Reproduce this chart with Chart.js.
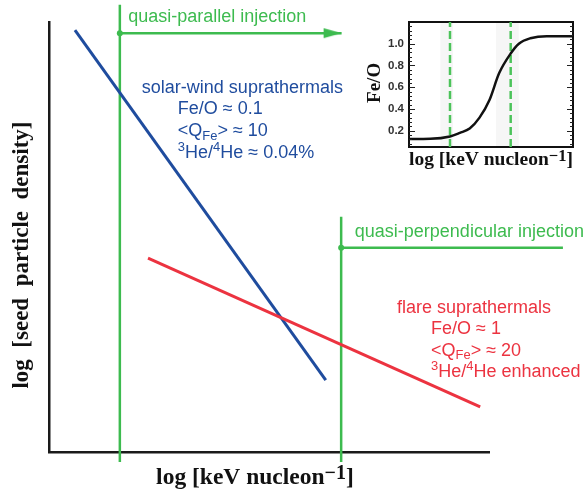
<!DOCTYPE html>
<html>
<head>
<meta charset="utf-8">
<script src="https://cdn.jsdelivr.net/npm/chart.js@4.4.1/dist/chart.umd.min.js"></script>
<style>
  html, body { margin: 0; padding: 0; background: #fff; }
  #wrap { position: relative; width: 587px; height: 493px; }
  #main { position: absolute; left: 0; top: 0; }
  #inset { position: absolute; left: 360px; top: 5px; }
</style>
</head>
<body>
<div id="wrap">
  <canvas id="main" width="587" height="493"></canvas>
  <canvas id="inset" width="227" height="175"></canvas>
</div>
<script>
// ---------- Datos: grafico principal (unidades arbitrarias, log-log) ----------
var blueX = [0.59, 6.29];          // suprathermals viento solar
var blueY = [9.81, 1.67];
var redX = [2.25, 9.80];           // suprathermals de fulguraciones
var redY = [4.51, 1.05];
var injX = [1.61, 6.64];           // umbrales de inyeccion (lineas verticales)
var injTop = [10.40, 5.47];
var injBottom = -0.23;
var parX = [1.61, 6.65];           // flecha quasi-parallel
var parY = [9.74, 9.74];
var perpX = [6.64, 11.68];         // flecha quasi-perpendicular
var perpY = [4.75, 4.75];

// ---------- Datos: inset Fe/O ----------
var insetX = [0, 0.13, 0.25, 0.31, 0.37, 0.43, 0.49, 0.55, 0.62, 0.67, 0.74, 0.84, 1.0];
var insetFeO = [0.123, 0.125, 0.147, 0.18, 0.22, 0.32, 0.48, 0.73, 0.91, 1.0, 1.05, 1.07, 1.07];
var insetMarkX = [0.25, 0.62];
var insetBandLo = [0.19, 0.53];
var insetBandHi = [0.27, 0.67];
var insetTickLabels = ['0.2', '0.4', '0.6', '0.8', '1.0'];

// ---------- Textos ----------
var txtParallel = 'quasi-parallel injection';
var txtPerp = 'quasi-perpendicular injection';
var txtSolar = ['solar-wind suprathermals', 'Fe/O \u2248 0.1',
    ['<Q', { sub: 'Fe' }, '> \u2248 10'],
    [{ sup: '3' }, 'He/', { sup: '4' }, 'He \u2248 0.04%']];
var txtFlare = ['flare suprathermals', 'Fe/O \u2248 1',
    ['<Q', { sub: 'Fe' }, '> \u2248 20'],
    [{ sup: '3' }, 'He/', { sup: '4' }, 'He enhanced']];
var txtXTitle = ['log [keV nucleon', { sup: '\u22121', rise: 0.18, scale: 0.85 }, ']'];
var txtYTitle = 'log  [seed  particle  density]';
var txtInsetY = 'Fe/O';

var GREEN = '#3dbb4f', BLUE = '#1f4c9e', RED = '#ec3340';
var SANS = "'Liberation Sans', Arial, sans-serif";
var SERIF = "'Liberation Serif', 'Times New Roman', serif";

// ---------- Helpers ----------
function pts(xs, ys) {
    return xs.map(function (x, i) { return { x: x, y: ys[i] }; });
}

function arrowHead(color) {
    var c = document.createElement('canvas');
    c.width = 38; c.height = 12;
    var g = c.getContext('2d');
    g.fillStyle = color;
    g.beginPath(); g.moveTo(1, 1); g.lineTo(19, 6); g.lineTo(1, 11); g.closePath(); g.fill();
    return c;
}

// texto con sub/superindices
function drawRuns(ctx, runs, x, y, o) {
    if (typeof runs === 'string') runs = [runs];
    var weight = o.bold ? 'bold ' : '';
    function txt(r) { return typeof r === 'string' ? r : (r.sub || r.sup); }
    function fontOf(r) {
        var s = (typeof r === 'string') ? o.size : o.size * (r.scale || 0.72);
        return weight + s + 'px ' + o.family;
    }
    var total = 0;
    runs.forEach(function (r) {
        ctx.font = fontOf(r);
        total += ctx.measureText(txt(r)).width;
    });
    ctx.save();
    ctx.translate(x, y);
    if (o.rotate) ctx.rotate(o.rotate);
    var cx = o.align === 'center' ? -total / 2 : 0;
    ctx.fillStyle = o.color;
    ctx.textBaseline = 'middle';
    ctx.textAlign = 'left';
    runs.forEach(function (r) {
        ctx.font = fontOf(r);
        var dy = 0;
        if (typeof r !== 'string') dy = r.sub ? o.size * 0.28 : -o.size * (r.rise || 0.3);
        ctx.fillText(txt(r), cx, dy);
        cx += ctx.measureText(txt(r)).width;
    });
    ctx.restore();
}

// las notas se guardan en el closure (no pasan por el resolver de opciones)
function notesPlugin(items) {
    return {
        id: 'notes',
        afterDraw: function (chart) {
            var xs = chart.scales.x, ys = chart.scales.y, ctx = chart.ctx;
            items.forEach(function (n) {
                var px = xs.getPixelForValue(n.x);
                var py = ys.getPixelForValue(n.y);
                var lines = n.lines || [n.text];
                lines.forEach(function (ln, i) {
                    drawRuns(ctx, ln, px + (i > 0 ? (n.indent || 0) : 0), py + i * (n.lead || 0), n);
                });
            });
        }
    };
}

// ---------- Grafico principal ----------
var head = arrowHead(GREEN);

function lineDs(data, color, w) {
    return { data: data, borderColor: color, borderWidth: w, showLine: true,
        pointRadius: 0, clip: false, fill: false };
}
function arrowDs(xs, ys) {
    return {
        data: pts(xs, ys), borderColor: GREEN, borderWidth: 2.5, showLine: true, clip: false,
        pointStyle: function (c) { return c.dataIndex === 0 ? 'circle' : head; },
        pointRadius: function (c) { return c.dataIndex === 0 ? 3 : 6; },
        pointBackgroundColor: GREEN, pointBorderWidth: 0
    };
}

var mainNotes = [
    { text: txtParallel, x: 1.80, y: 10.12, size: 18, family: SANS, color: GREEN },
    { text: txtPerp, x: 6.95, y: 5.12, size: 18, family: SANS, color: GREEN },
    { lines: txtSolar, x: 2.11, y: 8.47, indent: 36, lead: 21.7, size: 18, family: SANS, color: BLUE },
    { lines: txtFlare, x: 7.91, y: 3.35, indent: 34, lead: 21.3, size: 18, family: SANS, color: RED },
    { text: txtXTitle, x: 4.68, y: -0.60, size: 23.5, family: SERIF, bold: true, color: '#111', align: 'center' },
    { text: txtYTitle, x: -0.61, y: 4.58, size: 23, family: SERIF, bold: true, color: '#111', align: 'center', rotate: -Math.PI / 2 }
];

new Chart(document.getElementById('main'), {
    type: 'scatter',
    data: {
        datasets: [
            lineDs(pts(redX, redY), RED, 3),
            lineDs(pts(blueX, blueY), BLUE, 3),
            lineDs([{ x: injX[0], y: injTop[0] }, { x: injX[0], y: injBottom }], GREEN, 2.5),
            lineDs([{ x: injX[1], y: injTop[1] }, { x: injX[1], y: injBottom }], GREEN, 2.5),
            arrowDs(parX, parY),
            arrowDs(perpX, perpY)
        ]
    },
    options: {
        responsive: false,
        animation: false,
        devicePixelRatio: 1,
        events: [],
        layout: { padding: { top: 22, right: 98, left: 0, bottom: 0 } },
        scales: {
            x: {
                type: 'linear', min: 0, max: 10,
                ticks: { display: false },
                grid: { display: false, drawTicks: false },
                border: { display: true, color: '#1a1a1a', width: 2.5 },
                afterFit: function (s) { s.height = 41; }
            },
            y: {
                type: 'linear', min: 0, max: 10,
                ticks: { display: false },
                grid: { display: false, drawTicks: false },
                border: { display: true, color: '#1a1a1a', width: 2.5 },
                afterFit: function (s) { s.width = 49; }
            }
        },
        plugins: { legend: { display: false }, tooltip: { enabled: false } }
    },
    plugins: [notesPlugin(mainNotes)]
});

// ---------- Inset Fe/O ----------
var insetTicksPlugin = {
    id: 'insetTicks',
    afterDraw: function (chart) {
        var ys = chart.scales.y, a = chart.chartArea, ctx = chart.ctx;
        ctx.save();
        ctx.strokeStyle = '#222';
        ctx.lineWidth = 1.2;
        for (var v = 0.08; v < 1.2; v += 0.04) {
            var py = Math.round(ys.getPixelForValue(v)) + 0.5;
            var len = (Math.abs(v * 5 - Math.round(v * 5)) < 0.01) ? 6 : 3;
            ctx.beginPath();
            ctx.moveTo(a.left, py); ctx.lineTo(a.left + len, py);
            ctx.moveTo(a.right, py); ctx.lineTo(a.right - len, py);
            ctx.stroke();
        }
        ctx.restore();
    }
};

var insetDatasets = [
    { data: pts(insetX, insetFeO), borderColor: '#111', borderWidth: 2.5, showLine: true,
      pointRadius: 0, cubicInterpolationMode: 'monotone', fill: false }
];
insetMarkX.forEach(function (mx) {
    insetDatasets.push({ data: [{ x: mx, y: 0.05 }, { x: mx, y: 1.2 }], borderColor: '#4cc35a',
        borderWidth: 2.5, borderDash: [8, 4], showLine: true, pointRadius: 0, fill: false });
});
insetBandLo.forEach(function (lo, i) {
    insetDatasets.push({ data: [{ x: lo, y: 1.2 }, { x: insetBandHi[i], y: 1.2 }], borderWidth: 0,
        showLine: true, pointRadius: 0, fill: 'start', backgroundColor: 'rgba(0,0,0,0.035)' });
});

var insetNotes = [
    { text: txtInsetY, x: -0.207, y: 0.64, size: 19, family: SERIF, bold: true, color: '#111', align: 'center', rotate: -Math.PI / 2 },
    { text: txtXTitle, x: 0.5, y: -0.07, size: 19.5, family: SERIF, bold: true, color: '#111', align: 'center' }
];

new Chart(document.getElementById('inset'), {
    type: 'scatter',
    data: { datasets: insetDatasets },
    options: {
        responsive: false,
        animation: false,
        devicePixelRatio: 1,
        events: [],
        layout: { padding: { top: 17, right: 14, left: 0, bottom: 0 } },
        scales: {
            x: {
                type: 'linear', min: 0, max: 1, position: 'bottom',
                ticks: { display: false },
                grid: { display: false, drawTicks: false },
                border: { display: true, color: '#111', width: 2 },
                afterFit: function (s) { s.height = 33; }
            },
            x2: {
                type: 'linear', axis: 'x', min: 0, max: 1, position: 'top',
                ticks: { display: false },
                grid: { display: false, drawTicks: false },
                border: { display: true, color: '#111', width: 2 },
                afterFit: function (s) { s.height = 0; }
            },
            y: {
                type: 'linear', min: 0.05, max: 1.2,
                afterBuildTicks: function (s) {
                    s.ticks = insetTickLabels.map(function (t) { return { value: parseFloat(t) }; });
                },
                ticks: {
                    autoSkip: false, padding: 5, color: '#333',
                    font: { family: SANS, size: 11.5, weight: 'bold' },
                    callback: function (v) { return Number(v).toFixed(1); }
                },
                grid: { display: false, drawTicks: false },
                border: { display: true, color: '#111', width: 2 },
                afterFit: function (s) { s.width = 49; }
            },
            y2: {
                type: 'linear', axis: 'y', min: 0.05, max: 1.2, position: 'right',
                ticks: { display: false },
                grid: { display: false, drawTicks: false },
                border: { display: true, color: '#111', width: 2 },
                afterFit: function (s) { s.width = 0; }
            }
        },
        plugins: { legend: { display: false }, tooltip: { enabled: false } }
    },
    plugins: [insetTicksPlugin, notesPlugin(insetNotes)]
});
</script>
</body>
</html>
